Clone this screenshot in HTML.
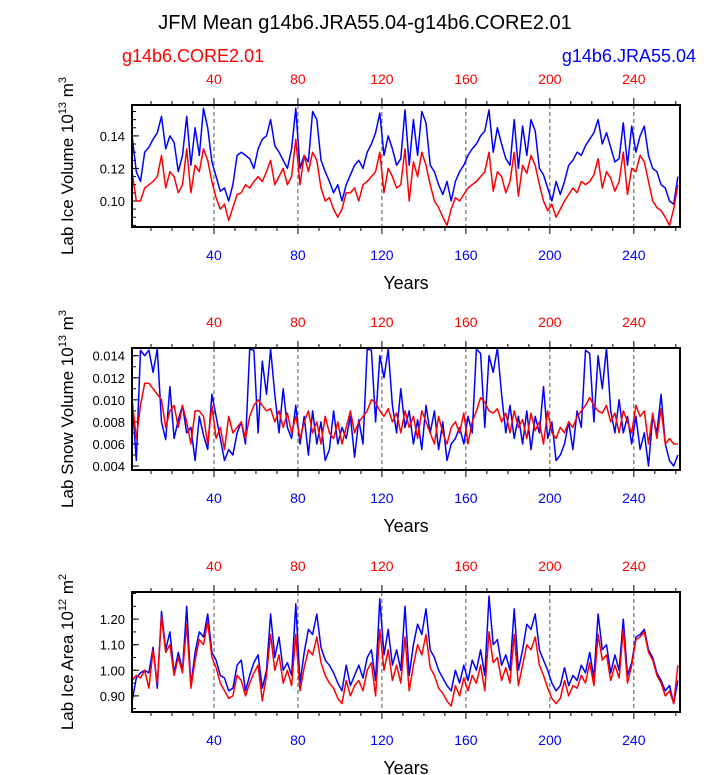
<!DOCTYPE html>
<html><head><meta charset="utf-8"><style>
body{margin:0;background:#fff}
svg{display:block;font-family:"Liberation Sans",sans-serif}
</style></head><body>
<svg id="chart" width="723" height="775">
<text x="365" y="29" font-size="20" text-anchor="middle">JFM Mean g14b6.JRA55.04-g14b6.CORE2.01</text>
<text x="122" y="62" font-size="18" fill="#ff0000">g14b6.CORE2.01</text>
<text x="696" y="62" font-size="18" fill="#0000ff" text-anchor="end">g14b6.JRA55.04</text>
</svg>
<script>
const years=[1,3,5,7,9,11,13,15,17,19,21,23,25,27,29,31,33,35,37,39,41,43,45,47,49,51,53,55,57,59,61,63,65,67,69,71,73,75,77,79,81,83,85,87,89,91,93,95,97,99,101,103,105,107,109,111,113,115,117,119,121,123,125,127,129,131,133,135,137,139,141,143,145,147,149,151,153,155,157,159,161,163,165,167,169,171,173,175,177,179,181,183,185,187,189,191,193,195,197,199,201,203,205,207,209,211,213,215,217,219,221,223,225,227,229,231,233,235,237,239,241,243,245,247,249,251,253,255,257,259,261];
const xTicks=[40,80,120,160,200,240];
const iceBlue=[0.140,0.118,0.112,0.130,0.133,0.138,0.142,0.152,0.132,0.140,0.136,0.118,0.128,0.152,0.122,0.145,0.128,0.157,0.145,0.124,0.115,0.106,0.108,0.100,0.110,0.128,
0.130,0.128,0.126,0.120,0.132,0.138,0.140,0.150,0.134,0.130,0.125,0.120,0.132,0.157,0.120,0.128,0.124,0.155,0.150,0.125,0.118,0.112,0.105,0.110,0.100,0.110,
0.116,0.122,0.125,0.120,0.130,0.135,0.142,0.154,0.128,0.140,0.132,0.122,0.126,0.156,0.122,0.150,0.128,0.155,0.148,0.122,0.118,0.110,0.104,0.112,0.100,0.112,
0.118,0.122,0.128,0.132,0.135,0.140,0.143,0.156,0.130,0.145,0.135,0.126,0.122,0.150,0.120,0.146,0.128,0.150,0.143,0.120,0.116,0.108,0.100,0.112,0.104,0.112,
0.122,0.125,0.130,0.128,0.134,0.138,0.142,0.150,0.135,0.142,0.133,0.124,0.126,0.148,0.122,0.146,0.130,0.140,0.146,0.128,0.120,0.118,0.110,0.108,0.100,0.098,0.115];
const iceRed=[0.118,0.100,0.100,0.108,0.110,0.112,0.115,0.128,0.108,0.118,0.115,0.105,0.110,0.132,0.105,0.122,0.118,0.132,0.125,0.112,0.102,0.095,0.098,0.088,0.096,0.104,
0.105,0.110,0.108,0.112,0.115,0.112,0.118,0.125,0.110,0.115,0.120,0.110,0.115,0.138,0.110,0.128,0.118,0.130,0.125,0.108,0.100,0.102,0.095,0.090,0.095,0.105,
0.105,0.108,0.100,0.110,0.112,0.115,0.118,0.130,0.105,0.120,0.115,0.108,0.110,0.132,0.100,0.124,0.115,0.130,0.122,0.110,0.100,0.096,0.090,0.085,0.095,0.102,
0.100,0.104,0.108,0.110,0.112,0.115,0.118,0.130,0.106,0.118,0.115,0.105,0.112,0.130,0.103,0.122,0.117,0.128,0.122,0.110,0.100,0.094,0.098,0.090,0.095,0.100,
0.104,0.108,0.105,0.112,0.110,0.112,0.116,0.126,0.108,0.118,0.114,0.106,0.112,0.130,0.104,0.120,0.118,0.128,0.124,0.112,0.100,0.096,0.094,0.090,0.085,0.095,0.110];
const snowBlue=[0.0100,0.0045,0.0145,0.0140,0.0145,0.0125,0.0146,0.0080,0.0064,0.0112,0.0065,0.0082,0.0095,0.0070,0.0075,0.0045,0.0085,0.0068,0.0055,0.0105,0.0085,0.0065,0.0045,0.0055,0.0050,0.0070,
0.0080,0.0060,0.0146,0.0145,0.0070,0.0135,0.0105,0.0146,0.0105,0.0070,0.0110,0.0075,0.0065,0.0095,0.0060,0.0085,0.0050,0.0090,0.0060,0.0080,0.0045,0.0055,0.0090,0.0060,0.0075,0.0065,
0.0085,0.0048,0.0082,0.0060,0.0146,0.0145,0.0080,0.0140,0.0120,0.0146,0.0095,0.0070,0.0110,0.0075,0.0090,0.0060,0.0082,0.0055,0.0095,0.0070,0.0090,0.0055,0.0080,0.0045,0.0060,0.0065,
0.0075,0.0060,0.0085,0.0070,0.0146,0.0142,0.0075,0.0140,0.0125,0.0147,0.0105,0.0070,0.0095,0.0065,0.0085,0.0060,0.0090,0.0055,0.0085,0.0070,0.0112,0.0065,0.0080,0.0045,0.0050,0.0060,
0.0080,0.0055,0.0090,0.0075,0.0145,0.0142,0.0080,0.0140,0.0110,0.0147,0.0090,0.0070,0.0100,0.0070,0.0085,0.0060,0.0085,0.0055,0.0070,0.0040,0.0085,0.0070,0.0105,0.0060,0.0045,0.0040,0.0050];
const snowRed=[0.0100,0.0065,0.0095,0.0115,0.0115,0.0110,0.0105,0.0100,0.0075,0.0090,0.0095,0.0075,0.0095,0.0080,0.0060,0.0090,0.0090,0.0085,0.0060,0.0095,0.0065,0.0075,0.0055,0.0085,0.0070,0.0075,
0.0080,0.0065,0.0085,0.0095,0.0100,0.0095,0.0090,0.0092,0.0080,0.0090,0.0075,0.0088,0.0070,0.0085,0.0065,0.0080,0.0090,0.0070,0.0080,0.0060,0.0085,0.0070,0.0065,0.0080,0.0060,0.0075,
0.0090,0.0070,0.0080,0.0085,0.0090,0.0100,0.0098,0.0090,0.0085,0.0092,0.0080,0.0088,0.0070,0.0090,0.0075,0.0085,0.0065,0.0090,0.0080,0.0070,0.0060,0.0085,0.0070,0.0060,0.0075,0.0080,
0.0070,0.0088,0.0060,0.0080,0.0090,0.0102,0.0098,0.0090,0.0088,0.0092,0.0080,0.0088,0.0070,0.0090,0.0075,0.0082,0.0065,0.0088,0.0072,0.0080,0.0060,0.0090,0.0070,0.0065,0.0075,0.0070,
0.0080,0.0075,0.0085,0.0090,0.0095,0.0102,0.0095,0.0090,0.0088,0.0095,0.0080,0.0088,0.0070,0.0090,0.0080,0.0070,0.0095,0.0085,0.0090,0.0060,0.0088,0.0065,0.0092,0.0060,0.0065,0.0060,0.0060];
const areaBlue=[0.88,0.97,0.99,1.00,0.99,1.09,0.93,1.23,1.08,1.15,0.99,1.07,1.00,1.25,0.94,1.07,1.15,1.13,1.22,1.07,1.04,0.98,0.97,0.92,0.93,1.02,
1.04,0.92,0.98,1.03,1.06,0.93,1.00,1.22,1.05,1.13,1.00,1.03,0.98,1.26,0.95,1.07,1.16,1.14,1.22,1.09,1.04,1.02,0.99,0.95,0.92,1.02,
0.94,0.98,1.02,0.97,1.05,1.08,0.96,1.28,1.06,1.16,1.02,1.08,1.00,1.25,0.98,1.10,1.18,1.14,1.24,1.08,1.05,1.00,0.97,0.94,0.92,1.00,
0.95,1.02,0.96,1.04,1.00,1.08,0.98,1.29,1.10,1.12,1.02,1.06,1.00,1.24,1.00,1.08,1.18,1.16,1.22,1.08,1.04,1.00,0.95,0.92,0.94,1.01,
0.94,0.98,0.96,1.02,0.99,1.07,0.97,1.22,1.08,1.10,0.99,1.06,1.00,1.20,0.98,1.03,1.13,1.14,1.16,1.08,1.05,0.99,0.96,0.92,0.94,0.87,0.96];
const areaRed=[0.96,0.98,0.97,1.00,0.93,1.08,0.95,1.21,1.07,1.10,0.98,1.05,0.99,1.18,0.93,1.04,1.12,1.10,1.19,1.05,1.01,0.95,0.92,0.89,0.90,0.98,
0.96,0.90,0.95,0.99,1.02,0.88,0.98,1.14,1.00,1.06,0.95,1.00,0.94,1.14,0.92,1.01,1.08,1.06,1.13,1.03,0.98,0.95,0.93,0.89,0.87,0.96,
0.90,0.94,0.96,0.92,1.00,1.03,0.90,1.16,1.00,1.08,0.96,1.02,0.95,1.13,0.92,1.02,1.10,1.06,1.14,1.01,0.98,0.93,0.91,0.88,0.86,0.94,
0.90,0.97,0.92,0.98,0.95,1.02,0.92,1.15,1.03,1.05,0.96,1.01,0.95,1.14,0.94,1.02,1.10,1.08,1.13,1.02,0.98,0.93,0.89,0.87,0.89,0.96,
0.90,0.94,0.93,0.98,0.95,1.03,0.94,1.14,1.04,1.06,0.96,1.02,0.97,1.16,0.95,1.02,1.12,1.13,1.15,1.07,1.04,0.98,0.95,0.90,0.92,0.87,1.02];
const iceTicks=[0.10,0.12,0.14];
const snowTicks=[0.004,0.006,0.008,0.010,0.012,0.014];
const areaTicks=[0.90,1.00,1.10,1.20];

const svg=document.getElementById('chart');
const NS='http://www.w3.org/2000/svg';
const X0=130,X1=680,YMIN=0,YMAX=262;
function xs(v){return X0+(v-YMIN)/(YMAX-YMIN)*(X1-X0);}
function mk(tag,attrs,parent){const e=document.createElementNS(NS,tag);for(const k in attrs)e.setAttribute(k,attrs[k]);(parent||svg).appendChild(e);return e;}

const panels=[
 {name:'ice-volume',top:105,bot:227,lo:0.084,hi:0.159,ticks:iceTicks,dec:2,minor:0.005,blue:iceBlue,red:iceRed,title:['Lab Ice Volume 10','13',' m','3']},
 {name:'snow-volume',top:348,bot:470,lo:0.00364,hi:0.0147,ticks:snowTicks,dec:3,minor:0.001,blue:snowBlue,red:snowRed,title:['Lab Snow Volume 10','13',' m','3']},
 {name:'ice-area',top:592,bot:712,lo:0.837,hi:1.306,ticks:areaTicks,dec:2,minor:0.05,blue:areaBlue,red:areaRed,title:['Lab Ice Area 10','12',' m','2']}
];
panels.forEach(p=>{
 const g=mk('g',{});
 
 
 const ys=v=>p.bot-(v-p.lo)/(p.hi-p.lo)*(p.bot-p.top);
 // dashed gridlines
 xTicks.forEach(t=>{const l=mk('line',{x1:xs(t),x2:xs(t),y1:p.top,y2:p.bot,stroke:'#555','stroke-width':1,'stroke-dasharray':'4,3'},g);
  
  });
 // minor x ticks outward top/bottom
 for(let t=10;t<262;t+=10){const len=(t%40===0)?7:4;
  mk('line',{x1:xs(t),x2:xs(t),y1:p.top,y2:p.top-len,stroke:'#000','stroke-width':1},g);
  mk('line',{x1:xs(t),x2:xs(t),y1:p.bot,y2:p.bot+len,stroke:'#000','stroke-width':1},g);}
 // y ticks
 for(let v=Math.ceil(p.lo/p.minor)*p.minor;v<=p.hi;v+=p.minor){mk('line',{x1:X0+2,x2:X0+6,y1:ys(v),y2:ys(v),stroke:'#000','stroke-width':1},g);}
 p.ticks.forEach(v=>{mk('line',{x1:X0+2,x2:X0+9,y1:ys(v),y2:ys(v),stroke:'#000','stroke-width':1},g);
  const t=mk('text',{x:125,y:ys(v)+5,'font-size':13,'text-anchor':'end'},g);t.textContent=v.toFixed(p.dec);
  
  });
 // x tick labels
 xTicks.forEach(t=>{
  const a=mk('text',{x:xs(t),y:p.top-21,'font-size':14,'text-anchor':'middle',fill:'#ff0000'},g);a.textContent=t;
  
  
  const b=mk('text',{x:xs(t),y:p.bot+33,'font-size':14,'text-anchor':'middle',fill:'#0000ff'},g);b.textContent=t;
  
  });
 const xt=mk('text',{x:406,y:p.bot+62,'font-size':18,'text-anchor':'middle'},g);xt.textContent='Years';
 
 
 const cy=(p.top+p.bot)/2;
 const yt=mk('text',{x:0,y:0,'font-size':17,'text-anchor':'middle',transform:`translate(73,${cy}) rotate(-90)`},g);
 
 
 const parts=p.title;
 const s1=mk('tspan',{},yt);s1.textContent=parts[0];
 const s2=mk('tspan',{dy:-7,'font-size':11},yt);s2.textContent=parts[1];
 const s3=mk('tspan',{dy:7},yt);s3.textContent=parts[2];
 const s4=mk('tspan',{dy:-7,'font-size':11},yt);s4.textContent=parts[3];
 // series
 [['blue',p.blue,'#0000ff'],['red',p.red,'#ff0000']].forEach(([nm,arr,c])=>{
  const pts=arr.map((v,i)=>xs(years[i]).toFixed(1)+','+ys(Math.max(p.lo,Math.min(p.hi,v))).toFixed(1)).join(' ');
  const pl=mk('polyline',{points:pts,fill:'none',stroke:c,'stroke-width':1.5,'stroke-linejoin':'round'},g);
  
  
 });
 const fr=mk('rect',{x:X0+2,y:p.top,width:X1-X0-2,height:p.bot-p.top,fill:'none',stroke:'#000','stroke-width':2},g);
 
 
});
</script>
</body></html>
